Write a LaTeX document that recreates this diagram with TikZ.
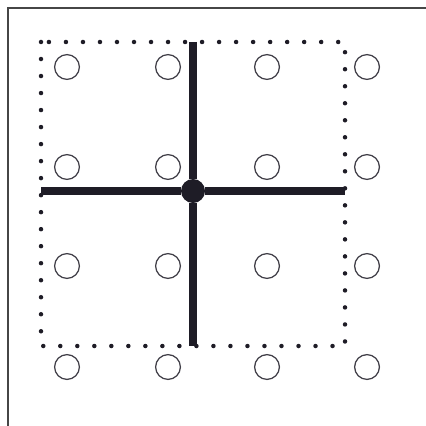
\documentclass[tikz,border=0pt]{standalone}
\usepackage{xcolor}
\definecolor{ink}{RGB}{30,28,38}
\definecolor{frame}{RGB}{70,70,70}
\usepackage{tikz}
\usetikzlibrary{positioning}

\begin{document}
\begin{tikzpicture}[
  x=0.025cm,y=-0.025cm,
  pin/.style={circle,draw=ink!85,line width=0.9pt,minimum size=0.62cm,inner sep=0pt},
  hub/.style={circle,fill=ink,minimum size=0.6cm,inner sep=0pt},
  bar/.style={ink,line width=5pt},
  border/.style={frame,line width=1.2pt}
]
  \useasboundingbox (0,0) rectangle (426,426);
  \draw[border] (8,426) -- (8,8) -- (426,8);

  % dotted window
  \draw[ink,line width=3.2pt,line cap=round,dash pattern=on 0pt off 12.1pt]
    (41,42) rectangle (345,346);

  % grid of open circles
  \foreach \i/\x in {1/67,2/168,3/267,4/367}
    \foreach \j/\y in {1/67,2/167,3/266,4/367}
      \node[pin] (c\i\j) at (\x,\y) {};

  \node[hub] (hub) at (193,191) {};
  \coordinate (top) at (193,42);
  \coordinate (bot) at (193,346);
  \coordinate (lft) at (41,191);
  \coordinate (rgt) at (345,191);

  \draw[bar] (top) -- (hub) -- (bot);
  \draw[bar] (lft) -- (hub) -- (rgt);
\end{tikzpicture}
\end{document}
